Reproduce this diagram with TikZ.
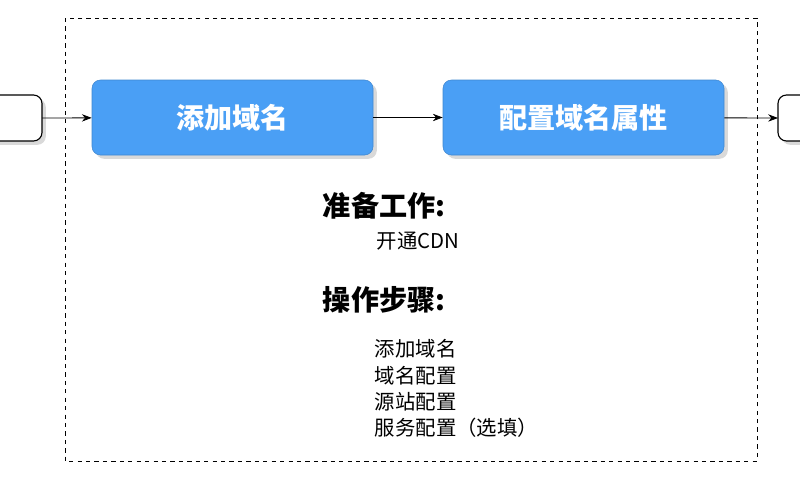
\documentclass[tikz,border=0pt]{standalone}
\usepackage{fontspec}
\setmainfont{Noto Sans CJK SC}
\usetikzlibrary{arrows.meta,shadows}
\definecolor{bl}{HTML}{4A9FF5}
\begin{document}
\begin{tikzpicture}[x=0.025cm,y=-0.025cm,
  bluebox/.style={draw=bl!85!black,fill=bl,rounded corners=6pt,drop shadow={opacity=0.3}},
  whitebox/.style={draw=black,line width=0.8pt,fill=white,rounded corners=6pt,drop shadow={opacity=0.3}},
  conn/.style={-{Stealth[length=7pt]},line width=0.6pt},
  head/.style={anchor=west,font=\bfseries\fontsize{20}{22}\selectfont},
  item/.style={anchor=west,font=\fontsize{14.5}{16}\selectfont}]
\useasboundingbox (0,0) rectangle (800,500);
\draw[dashed,line width=0.6pt] (65,18) rectangle (757,461);
\begin{scope}
\clip (0,0) rectangle (800,500);
\draw[whitebox] (-30,95) rectangle (42,141);
\draw[whitebox] (778,95) rectangle (850,141);
\end{scope}
\coordinate (L) at (42,118);
\coordinate (R) at (778,118);
\node[bluebox,minimum width=281*0.025cm,minimum height=75*0.025cm,text=white,font=\bfseries\fontsize{20}{22}\selectfont] (a) at (232.5,117.5) {添加域名};
\node[bluebox,minimum width=281*0.025cm,minimum height=75*0.025cm,text=white,font=\bfseries\fontsize{20}{22}\selectfont] (b) at (583.5,117.5) {配置域名属性};
\draw[conn] (L) -- (a);
\draw[conn] (a) -- (b);
\draw[conn] (b) -- (R);
\node[head] (t1) at (318,206) {准备工作:};
\node[item] (t2) at (372,241) {开通CDN};
\node[head] (t3) at (318,300) {操作步骤:};
\node[item] (i1) at (370,349) {添加域名};
\node[item] (i2) at (370,376) {域名配置};
\node[item] (i3) at (370,402) {源站配置};
\node[item] (i4) at (370,428) {服务配置（选填）};
\end{tikzpicture}
\end{document}
